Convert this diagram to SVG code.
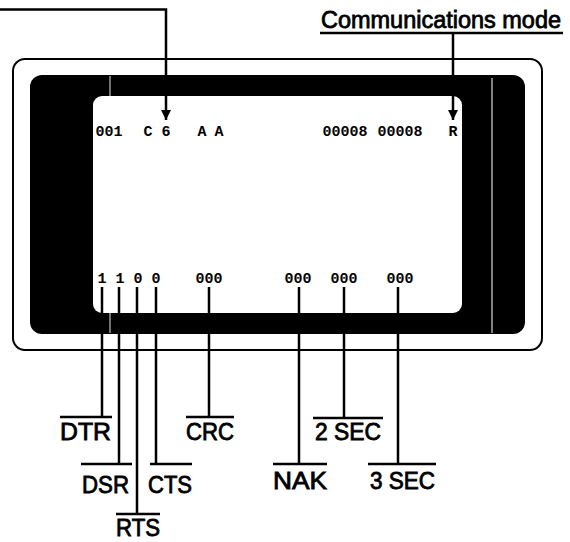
<svg xmlns="http://www.w3.org/2000/svg" width="570" height="542" viewBox="0 0 570 542">
<style>
.lbl{font-family:"Liberation Sans",Arial,sans-serif;font-size:23.5px;fill:#000;stroke:#000;stroke-width:0.8}
.scr{font-family:"Liberation Mono","DejaVu Sans Mono",monospace;font-size:15px;font-weight:bold;fill:#000;text-anchor:middle}
.ln{stroke:#000;stroke-width:2.5;fill:none}
.bar{stroke:#000;stroke-width:2.5}
</style>
<defs>
<marker id="ah" viewBox="0 0 10 16" refX="10" refY="8" markerWidth="10" markerHeight="16" markerUnits="userSpaceOnUse" orient="auto">
<path d="M0,3 L10,8 L0,13 Z" fill="#000"/>
</marker>
</defs>
<rect width="570" height="542" fill="#fff"/>

<g id="terminal">
<rect x="13" y="59" width="529" height="291" rx="12" fill="#fff" stroke="#000" stroke-width="2"/>
<rect x="30" y="75" width="495" height="259" rx="12" fill="#000"/>
<line x1="110" y1="76" x2="110" y2="333" stroke="#999" stroke-width="1.5"/>
<line x1="492" y1="78" x2="492" y2="333" stroke="#fff" stroke-width="1"/>
<rect id="screen" x="93" y="96" width="369" height="217" rx="9" fill="#fff"/>
</g>

<g id="screen-text">
<text class="scr" x="109" y="136">001</text>
<text class="scr" x="148" y="136">C</text>
<text class="scr" x="166" y="136">6</text>
<text class="scr" x="202" y="136">A</text>
<text class="scr" x="219" y="136">A</text>
<text class="scr" x="345" y="136">00008</text>
<text class="scr" x="400" y="136">00008</text>
<text class="scr" x="453" y="136">R</text>
<text class="scr" x="102" y="283">1</text>
<text class="scr" x="120" y="283">1</text>
<text class="scr" x="138" y="283">0</text>
<text class="scr" x="156" y="283">0</text>
<text class="scr" x="209" y="283">000</text>
<text class="scr" x="298" y="283">000</text>
<text class="scr" x="344" y="283">000</text>
<text class="scr" x="400" y="283">000</text>
</g>

<g id="connectors">
<polyline class="ln" points="0,9.5 166,9.5 166,120" marker-end="url(#ah)"/>
<line class="ln" x1="453" y1="33" x2="453" y2="120" marker-end="url(#ah)"/>
<line class="ln" x1="102" y1="287" x2="102" y2="417"/>
<line class="ln" x1="119" y1="287" x2="119" y2="464"/>
<line class="ln" x1="137" y1="287" x2="137" y2="514"/>
<line class="ln" x1="156" y1="287" x2="156" y2="464"/>
<line class="ln" x1="209" y1="287" x2="209" y2="417"/>
<line class="ln" x1="299" y1="287" x2="299" y2="464"/>
<line class="ln" x1="344" y1="287" x2="344" y2="418"/>
<line class="ln" x1="398" y1="287" x2="398" y2="464"/>
</g>

<g id="comm-mode">
<text class="lbl" x="321" y="28" textLength="240" lengthAdjust="spacingAndGlyphs">Communications mode</text>
<line class="bar" x1="320" y1="33" x2="563" y2="33"/>
</g>
<g id="DTR">
<line class="bar" x1="60" y1="417" x2="112" y2="417"/>
<text class="lbl" x="60" y="440" textLength="51" lengthAdjust="spacingAndGlyphs">DTR</text>
</g>
<g id="DSR">
<line class="bar" x1="81" y1="464" x2="132" y2="464"/>
<text class="lbl" x="82" y="493" textLength="47" lengthAdjust="spacingAndGlyphs">DSR</text>
</g>
<g id="RTS">
<line class="bar" x1="116" y1="514" x2="160" y2="514"/>
<text class="lbl" x="116" y="536" textLength="44" lengthAdjust="spacingAndGlyphs">RTS</text>
</g>
<g id="CTS">
<line class="bar" x1="150" y1="464" x2="192" y2="464"/>
<text class="lbl" x="148" y="493" textLength="44" lengthAdjust="spacingAndGlyphs">CTS</text>
</g>
<g id="CRC">
<line class="bar" x1="186" y1="417" x2="234" y2="417"/>
<text class="lbl" x="186" y="440" textLength="48" lengthAdjust="spacingAndGlyphs">CRC</text>
</g>
<g id="NAK">
<line class="bar" x1="273" y1="464" x2="327" y2="464"/>
<text class="lbl" x="273" y="489" textLength="54" lengthAdjust="spacingAndGlyphs">NAK</text>
</g>
<g id="SEC2">
<line class="bar" x1="313" y1="418" x2="383" y2="418"/>
<text class="lbl" x="315" y="440" textLength="66" lengthAdjust="spacingAndGlyphs">2 SEC</text>
</g>
<g id="SEC3">
<line class="bar" x1="368" y1="464" x2="436" y2="464"/>
<text class="lbl" x="370" y="489" textLength="65" lengthAdjust="spacingAndGlyphs">3 SEC</text>
</g>
</svg>
